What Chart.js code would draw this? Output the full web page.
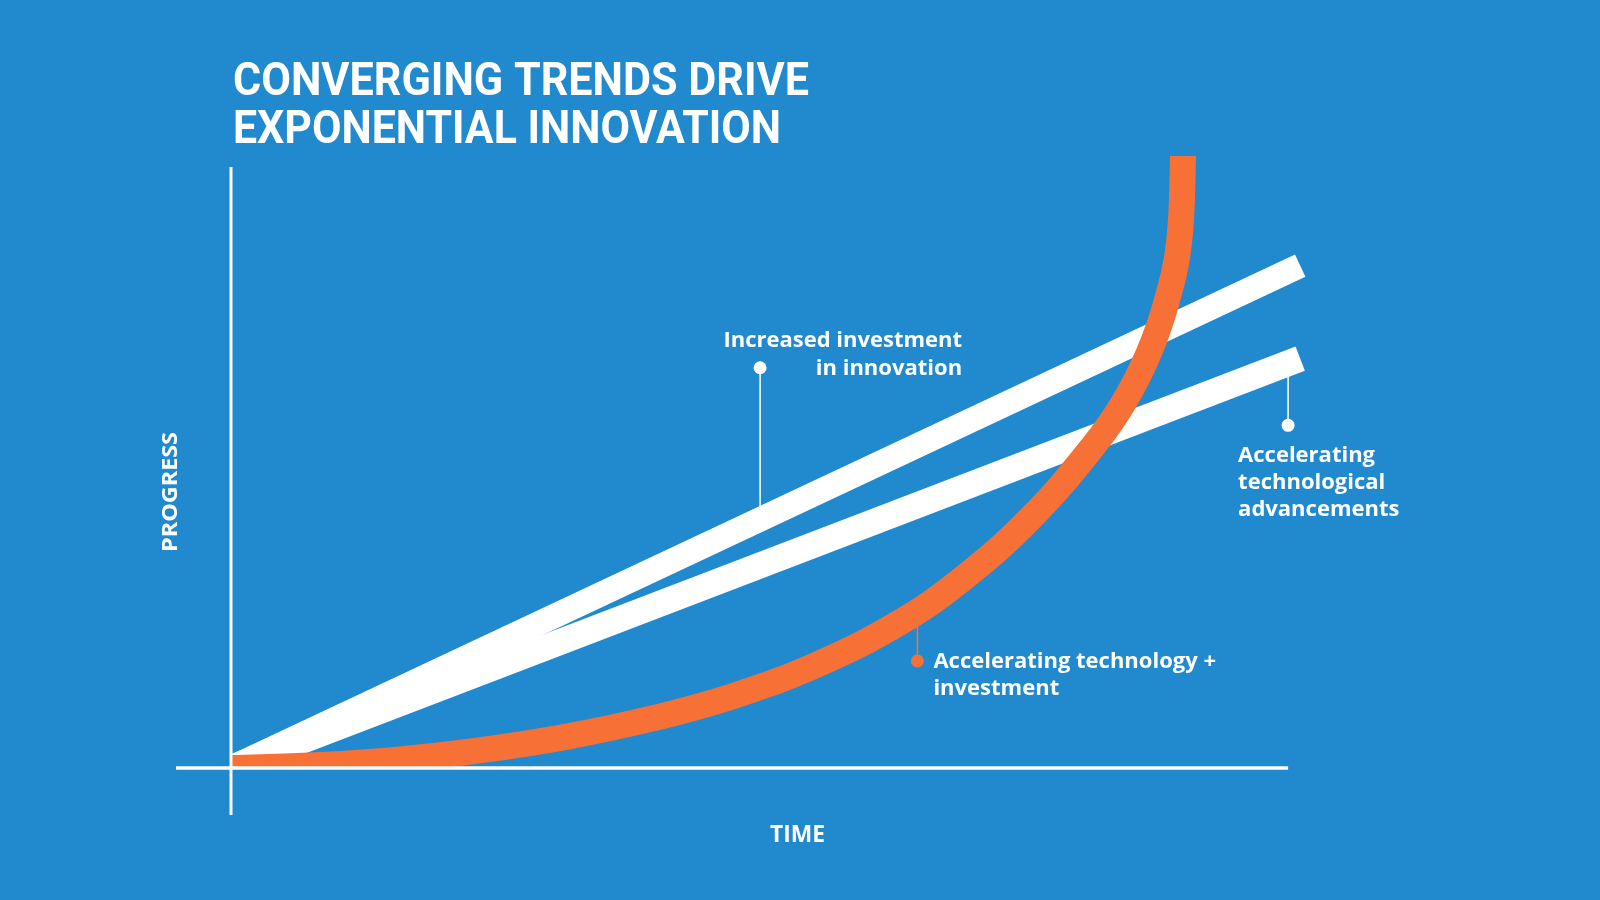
<!DOCTYPE html>
<html>
<head>
<meta charset="utf-8">
<title>Converging trends drive exponential innovation</title>
<script src="https://cdn.jsdelivr.net/npm/chart.js@4.4.1/dist/chart.umd.min.js"></script>
<style>
  html, body { margin: 0; padding: 0; background: #2189ce; }
  #wrap { width: 1600px; height: 900px; position: relative; }
</style>
</head>
<body>
<div id="wrap"><canvas id="trendChart"></canvas></div>
<script>
// chart text
const titleLines = ['CONVERGING TRENDS DRIVE', 'EXPONENTIAL INNOVATION'];
const xAxisTitle = 'TIME';
const yAxisTitle = 'PROGRESS';

// series (time, progress) - arbitrary units 0..100
const investmentTime = [0, 97.2];
const investmentProgress = [0, 82.1];
const techTime = [0, 97.2];
const techProgress = [0, 66.9];
const combinedTime = [0, 7.64, 15.36, 22.91, 30.55, 38.09, 45.64, 53.27, 60.82, 66.82, 72.82, 78.27, 81.14, 83.41, 85.05, 86.18, 86.55, 86.64];
const combinedProgress = [0, 0.44, 1.41, 2.96, 5.13, 8.01, 11.76, 16.9, 23.81, 31.37, 41.06, 52.34, 59.69, 67.7, 76.19, 85.78, 100, 110];

// callouts
const investmentLabel = ['Increased investment', 'in innovation'];
const techLabel = ['Accelerating', 'technological', 'advancements'];
const combinedLabel = ['Accelerating technology +', 'investment'];
const calloutTime = [48.1, 96.1, 62.4];
const calloutProgress = [65.4, 56.0, 17.5];

const WHITE = '#ffffff';
const ORANGE = '#f77136';

function toPoints(xs, ys) {
  return xs.map((x, i) => ({ x: x, y: ys[i] }));
}

function valueAt(xs, ys, x) {
  for (let i = 1; i < xs.length; i++) {
    if (x <= xs[i]) {
      const t = (x - xs[i - 1]) / (xs[i] - xs[i - 1]);
      return ys[i - 1] + t * (ys[i] - ys[i - 1]);
    }
  }
  return ys[ys.length - 1];
}

// draw text squeezed/stretched to a given width (left aligned)
function fitText(ctx, text, x, y, width) {
  const w = ctx.measureText(text).width;
  ctx.save();
  ctx.translate(x, y);
  ctx.scale(width / w, 1);
  ctx.fillText(text, 0, 0);
  ctx.restore();
}

const overlay = {
  id: 'overlay',
  beforeDatasetsDraw(chart) {
    const ctx = chart.ctx;
    const xs = chart.scales.x, ys = chart.scales.y;
    const series = [
      [investmentTime, investmentProgress, WHITE],
      [techTime, techProgress, WHITE],
      [combinedTime, combinedProgress, ORANGE]
    ];
    ctx.save();
    ctx.lineWidth = 1.5;
    series.forEach((s, i) => {
      const t = calloutTime[i];
      ctx.strokeStyle = s[2];
      ctx.beginPath();
      ctx.moveTo(xs.getPixelForValue(t), ys.getPixelForValue(calloutProgress[i]));
      ctx.lineTo(xs.getPixelForValue(t), ys.getPixelForValue(valueAt(s[0], s[1], t)));
      ctx.stroke();
    });
    ctx.restore();
  },
  afterDatasetsDraw(chart) {
    const ctx = chart.ctx;
    const xs = chart.scales.x, ys = chart.scales.y;
    ctx.save();

    // axes
    ctx.strokeStyle = WHITE;
    ctx.lineWidth = 3;
    ctx.beginPath();
    ctx.moveTo(xs.getPixelForValue(0), ys.getPixelForValue(98.2));
    ctx.lineTo(xs.getPixelForValue(0), ys.getPixelForValue(-7.7));
    ctx.stroke();
    ctx.lineWidth = 3.5;
    ctx.beginPath();
    ctx.moveTo(xs.getPixelForValue(-5), ys.getPixelForValue(0));
    ctx.lineTo(xs.getPixelForValue(96.1), ys.getPixelForValue(0));
    ctx.stroke();

    // callout dots
    const dotColors = [WHITE, WHITE, ORANGE];
    const dots = calloutTime.map((t, i) => {
      const px = xs.getPixelForValue(t), py = ys.getPixelForValue(calloutProgress[i]);
      ctx.fillStyle = dotColors[i];
      ctx.beginPath();
      ctx.arc(px, py, 6.5, 0, Math.PI * 2);
      ctx.fill();
      return { x: px, y: py };
    });

    // callout text
    ctx.fillStyle = WHITE;
    ctx.font = '700 22px "Open Sans"';
    ctx.textBaseline = 'alphabetic';
    ctx.textAlign = 'right';
    investmentLabel.forEach((l, i) => ctx.fillText(l, dots[0].x + 202, dots[0].y - 21 + i * 28));
    ctx.textAlign = 'left';
    techLabel.forEach((l, i) => ctx.fillText(l, dots[1].x - 50, dots[1].y + 37 + i * 27));
    combinedLabel.forEach((l, i) => ctx.fillText(l, dots[2].x + 16, dots[2].y + 7 + i * 27));

    // title
    ctx.font = '700 46px Roboto';
    fitText(ctx, titleLines[0], 233, 95, 576);
    fitText(ctx, titleLines[1], 233, 143, 548);

    // axis titles
    ctx.font = '700 23px "Open Sans"';
    fitText(ctx, xAxisTitle, 770, 842, 55);
    ctx.font = '700 22px "Open Sans"';
    ctx.translate(177, 552);
    ctx.rotate(-Math.PI / 2);
    fitText(ctx, yAxisTitle, 0, 0, 120);

    ctx.restore();
  }
};

const bandStyle = {
  fill: false,
  pointRadius: 0,
  borderCapStyle: 'butt',
  clip: 0
};

new Chart(document.getElementById('trendChart'), {
  type: 'line',
  data: {
    datasets: [
      Object.assign({
        label: 'Accelerating technology + investment',
        data: toPoints(combinedTime, combinedProgress),
        borderColor: ORANGE,
        borderWidth: 26,
        tension: 0.4
      }, bandStyle),
      Object.assign({
        label: 'Increased investment in innovation',
        data: toPoints(investmentTime, investmentProgress),
        borderColor: WHITE,
        borderWidth: 24.5
      }, bandStyle),
      Object.assign({
        label: 'Accelerating technological advancements',
        data: toPoints(techTime, techProgress),
        borderColor: WHITE,
        borderWidth: 26
      }, bandStyle)
    ]
  },
  options: {
    responsive: true,
    maintainAspectRatio: false,
    animation: false,
    events: [],
    layout: { padding: { left: 231, right: 269, top: 156, bottom: 132 } },
    scales: {
      x: { type: 'linear', min: 0, max: 100, display: false },
      y: { type: 'linear', min: 0, max: 100, display: false }
    },
    plugins: {
      legend: { display: false },
      tooltip: { enabled: false }
    }
  },
  plugins: [overlay]
});
</script>
</body>
</html>
